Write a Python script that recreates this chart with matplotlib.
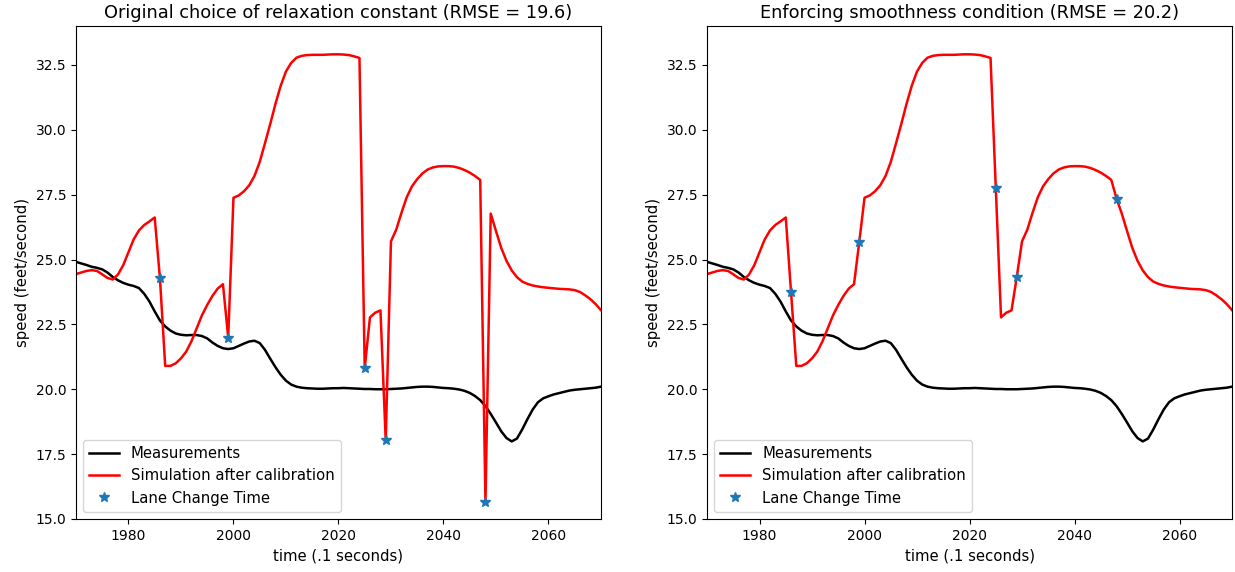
import matplotlib
matplotlib.use('Agg')
import matplotlib.pyplot as plt
import numpy as np

# time axis in tenths of a second
time = np.arange(1970, 2071)

# measured speed (feet/second)
measured = [
    24.91, 24.85, 24.79, 24.72, 24.68, 24.62, 24.50, 24.33, 24.20, 24.10,
    24.03, 23.98, 23.90, 23.68, 23.38, 23.00, 22.65, 22.42, 22.26, 22.15,
    22.10, 22.08, 22.09, 22.09, 22.05, 21.96, 21.80, 21.67, 21.58, 21.55,
    21.58, 21.67, 21.76, 21.84, 21.87, 21.78, 21.52, 21.18, 20.85, 20.56,
    20.33, 20.18, 20.10, 20.06, 20.04, 20.03, 20.02, 20.02, 20.03, 20.04,
    20.04, 20.05, 20.04, 20.03, 20.02, 20.01, 20.01, 20.00, 20.00, 20.00,
    20.01, 20.02, 20.03, 20.05, 20.07, 20.09, 20.10, 20.10, 20.09, 20.07,
    20.05, 20.04, 20.02, 19.99, 19.94, 19.86, 19.74, 19.58, 19.35, 19.05,
    18.72, 18.38, 18.12, 17.99, 18.10, 18.45, 18.85, 19.22, 19.50, 19.65,
    19.73, 19.80, 19.85, 19.90, 19.95, 19.98, 20.00, 20.02, 20.04, 20.06,
    20.10,
]

# simulated speed with the smoothness condition enforced
sim_smooth = [
    24.44, 24.50, 24.56, 24.59, 24.56, 24.43, 24.29, 24.23, 24.42, 24.78,
    25.28, 25.78, 26.12, 26.33, 26.47, 26.62, 23.75, 20.90, 20.90, 21.00,
    21.19, 21.45, 21.85, 22.35, 22.85, 23.25, 23.60, 23.88, 24.05, 25.68,
    27.38, 27.47, 27.63, 27.86, 28.22, 28.76, 29.48, 30.22, 31.00, 31.70,
    32.25, 32.58, 32.78, 32.85, 32.88, 32.89, 32.89, 32.89, 32.90, 32.91,
    32.91, 32.90, 32.88, 32.83, 32.77, 27.76, 22.77, 22.95, 23.04, 24.33,
    25.70, 26.15, 26.80, 27.40, 27.82, 28.10, 28.32, 28.47, 28.55, 28.59,
    28.60, 28.60, 28.58, 28.53, 28.45, 28.35, 28.22, 28.07, 27.35, 26.77,
    26.10, 25.45, 24.95, 24.58, 24.32, 24.15, 24.06, 24.00, 23.96, 23.93,
    23.91, 23.89, 23.87, 23.86, 23.85, 23.82, 23.75, 23.62, 23.47, 23.28,
    23.05,
]

# lane change times and the original simulation speed at those times
lane_change = [1986, 1999, 2025, 2029, 2048]
orig_at_change = [24.27, 21.99, 20.81, 18.03, 15.64]

sim_orig = list(sim_smooth)
for t, v in zip(lane_change, orig_at_change):
    sim_orig[t - 1970] = v

fig, axes = plt.subplots(1, 2, figsize=(12.35, 5.72), dpi=100)
plt.subplots_adjust(left=0.0615, right=0.9976, top=0.9545, bottom=0.0927, wspace=0.202)

panels = [
    (axes[0], sim_orig, 'Original choice of relaxation constant (RMSE = 19.6)'),
    (axes[1], sim_smooth, 'Enforcing smoothness condition (RMSE = 20.2)'),
]

for ax, sim, title in panels:
    ax.plot(time, measured, color='k', lw=1.8, label='Measurements')
    ax.plot(time, sim, color='r', lw=1.8, label='Simulation after calibration')
    idx = [t - 1970 for t in lane_change]
    ax.plot(lane_change, [sim[i] for i in idx], '*', color='#1f77b4', ms=7,
            label='Lane Change Time')
    ax.set_xlim(1970, 2070)
    ax.set_ylim(15, 34)
    ax.set_title(title, fontsize=12.8)
    ax.set_xlabel('time (.1 seconds)', fontsize=10.7)
    ax.set_ylabel('speed (feet/second)', fontsize=10.7)
    ax.legend(loc='lower left', fontsize=10.7)

fig.savefig('out.png', dpi=100)
